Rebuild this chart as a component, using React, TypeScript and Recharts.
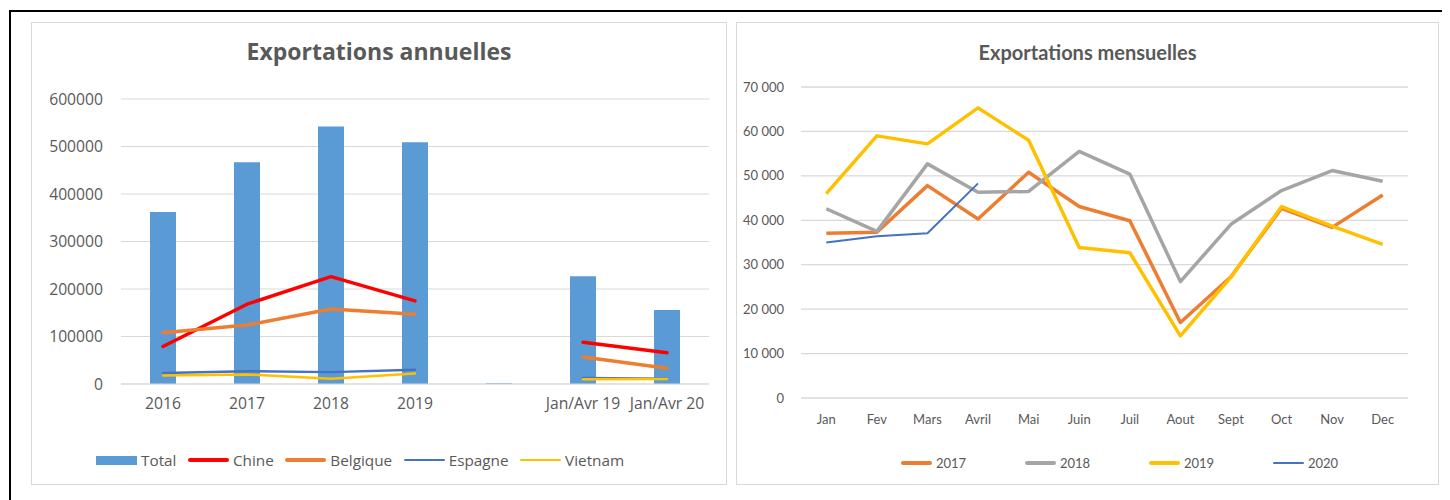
import { ComposedChart, Bar, Line, XAxis, YAxis, CartesianGrid } from 'recharts';

// ---- Exportations annuelles ----
const years = ['2016', '2017', '2018', '2019', '', 'Jan/Avr 19', 'Jan/Avr 20'];
const total = [362000, 467000, 542000, 509000, 1500, 227000, 156000];
const chine = [79000, 168000, 226000, 175000, null, 88000, 66000];
const belgique = [108000, 124000, 158000, 147000, null, 57000, 33000];
const espagne = [23000, 27000, 25000, 30000, null, 12500, 11000];
const vietnam = [18000, 20000, 11000, 22000, null, 10000, 10500];
const annualTicks = [0, 100000, 200000, 300000, 400000, 500000, 600000];

// ---- Exportations mensuelles ----
const months = ['Jan', 'Fev', 'Mars', 'Avril', 'Mai', 'Juin', 'Juil', 'Aout', 'Sept', 'Oct', 'Nov', 'Dec'];
const y2017 = [37100, 37300, 47800, 40300, 50800, 43100, 39900, 17000, 27300, 42700, 38400, 45700];
const y2018 = [42600, 37500, 52700, 46300, 46500, 55500, 50400, 26200, 39100, 46700, 51200, 48800];
const y2019 = [46000, 59000, 57200, 65300, 58000, 33900, 32700, 14000, 27200, 43100, 38700, 34600];
const y2020 = [35000, 36400, 37100, 48300, null, null, null, null, null, null, null, null];
const monthlyTicks = [0, 10000, 20000, 30000, 40000, 50000, 60000, 70000];

const annualData = years.map((label, i) => ({
  label,
  total: total[i],
  chine: chine[i],
  belgique: belgique[i],
  espagne: espagne[i],
  vietnam: vietnam[i],
}));

const monthlyData = months.map((month, i) => ({
  month,
  y2017: y2017[i],
  y2018: y2018[i],
  y2019: y2019[i],
  y2020: y2020[i],
}));

const GRAY = '#595959';
const GRID = '#D9D9D9';
const LEFT_FONT = '"Open Sans", sans-serif';
const RIGHT_FONT = 'Lato, sans-serif';

const fmtSpace = (v: number) => String(v).replace(/\B(?=(\d{3})+(?!\d))/g, ' ');

const annualLegend = [
  { name: 'Total', color: '#5B9BD5', bar: true, w: 3 },
  { name: 'Chine', color: '#FF0000', bar: false, w: 3.5 },
  { name: 'Belgique', color: '#ED7D31', bar: false, w: 3.5 },
  { name: 'Espagne', color: '#4472C4', bar: false, w: 2.5 },
  { name: 'Vietnam', color: '#FFC000', bar: false, w: 2.5 },
];

const monthlyLegend = [
  { name: '2017', color: '#ED7D31', w: 4 },
  { name: '2018', color: '#A5A5A5', w: 4 },
  { name: '2019', color: '#FFC000', w: 4 },
  { name: '2020', color: '#4472C4', w: 2.5 },
];

const panel = (left: number, width: number): React.CSSProperties => ({
  position: 'absolute',
  left,
  top: 14,
  width,
  height: 463,
  boxSizing: 'border-box',
  border: `1px solid ${GRID}`,
  background: '#fff',
});

export default function App() {
  return (
    <div style={{ position: 'relative', width: 1442, height: 492, overflow: 'hidden' }}>
      <div
        style={{
          position: 'absolute',
          left: 1,
          top: 2,
          width: 1500,
          height: 600,
          border: '2px solid #000',
        }}
      />

      {/* left panel */}
      <div style={panel(23, 696)}>
        <div
          style={{
            position: 'absolute',
            top: 12,
            left: 0,
            width: '100%',
            textAlign: 'center',
            fontFamily: LEFT_FONT,
            fontWeight: 700,
            fontSize: 23,
            color: GRAY,
          }}
        >
          Exportations annuelles
        </div>
        <ComposedChart
          width={694}
          height={461}
          data={annualData}
          margin={{ top: 76, right: 17, bottom: 70, left: 0 }}
          style={{ position: 'absolute', left: 0, top: 0 }}
        >
          <CartesianGrid vertical={false} stroke={GRID} strokeWidth={1} />
          <XAxis
            dataKey="label"
            tickLine={false}
            axisLine={{ stroke: GRID }}
            tickSize={0}
            tickMargin={14}
            height={30}
            interval={0}
            tick={{ fill: GRAY, fontSize: 15.7, fontFamily: LEFT_FONT }}
          />
          <YAxis
            domain={[0, 600000]}
            ticks={annualTicks}
            width={89}
            tickLine={false}
            axisLine={false}
            tickSize={0}
            tickMargin={18}
            tick={{ fill: GRAY, fontSize: 15.7, fontFamily: LEFT_FONT }}
          />
          <Bar dataKey="total" fill="#5B9BD5" barSize={26} isAnimationActive={false} />
          <Line dataKey="chine" stroke="#FF0000" strokeWidth={3.5} dot={false} activeDot={false} strokeLinecap="round" strokeLinejoin="round" isAnimationActive={false} />
          <Line dataKey="belgique" stroke="#ED7D31" strokeWidth={3.5} dot={false} activeDot={false} strokeLinecap="round" strokeLinejoin="round" isAnimationActive={false} />
          <Line dataKey="espagne" stroke="#4472C4" strokeWidth={2.5} dot={false} activeDot={false} strokeLinecap="round" strokeLinejoin="round" isAnimationActive={false} />
          <Line dataKey="vietnam" stroke="#FFC000" strokeWidth={2.5} dot={false} activeDot={false} strokeLinecap="round" strokeLinejoin="round" isAnimationActive={false} />
        </ComposedChart>
        <div
          style={{
            position: 'absolute',
            left: 64,
            top: 427,
            display: 'flex',
            alignItems: 'center',
            fontFamily: LEFT_FONT,
            fontSize: 15.3,
            color: GRAY,
            lineHeight: '20px',
          }}
        >
          {annualLegend.map((it) => (
            <div key={it.name} style={{ display: 'flex', alignItems: 'center', marginRight: 11.5 }}>
              <span
                style={{
                  display: 'inline-block',
                  width: 41,
                  height: it.bar ? 9 : it.w,
                  background: it.color,
                  borderRadius: it.bar ? 0 : 2,
                  marginRight: 4,
                }}
              />
              <span>{it.name}</span>
            </div>
          ))}
        </div>
      </div>

      {/* right panel */}
      <div style={panel(728, 703)}>
        <div
          style={{
            position: 'absolute',
            top: 17,
            left: 0,
            width: '100%',
            textAlign: 'center',
            fontFamily: RIGHT_FONT,
            fontWeight: 700,
            fontSize: 20,
            color: GRAY,
          }}
        >
          Exportations mensuelles
        </div>
        <ComposedChart
          width={701}
          height={461}
          data={monthlyData}
          margin={{ top: 64, right: 30, bottom: 56, left: 0 }}
          style={{ position: 'absolute', left: 0, top: 0 }}
        >
          <CartesianGrid vertical={false} stroke={GRID} strokeWidth={1.3} />
          <XAxis
            dataKey="month"
            scale="band"
            tickLine={false}
            axisLine={false}
            tickSize={0}
            tickMargin={17}
            height={30}
            interval={0}
            tick={{ fill: GRAY, fontSize: 13, fontFamily: RIGHT_FONT }}
          />
          <YAxis
            domain={[0, 70000]}
            ticks={monthlyTicks}
            width={64}
            tickLine={false}
            axisLine={false}
            tickSize={0}
            tickMargin={17}
            tickFormatter={fmtSpace}
            tick={{ fill: GRAY, fontSize: 13, fontFamily: RIGHT_FONT }}
          />
          <Line dataKey="y2017" stroke="#ED7D31" strokeWidth={3.5} dot={false} activeDot={false} strokeLinejoin="round" isAnimationActive={false} />
          <Line dataKey="y2018" stroke="#A5A5A5" strokeWidth={3.5} dot={false} activeDot={false} strokeLinejoin="round" isAnimationActive={false} />
          <Line dataKey="y2019" stroke="#FFC000" strokeWidth={3.5} dot={false} activeDot={false} strokeLinejoin="round" isAnimationActive={false} />
          <Line dataKey="y2020" stroke="#4472C4" strokeWidth={2} dot={false} activeDot={false} strokeLinejoin="round" isAnimationActive={false} />
        </ComposedChart>
        <div
          style={{
            position: 'absolute',
            left: 164,
            top: 431,
            display: 'flex',
            alignItems: 'center',
            fontFamily: RIGHT_FONT,
            fontSize: 13,
            color: GRAY,
            lineHeight: '18px',
          }}
        >
          {monthlyLegend.map((it) => (
            <div key={it.name} style={{ display: 'flex', alignItems: 'center', width: 124 }}>
              <span
                style={{
                  display: 'inline-block',
                  width: 31,
                  height: it.w,
                  background: it.color,
                  borderRadius: 2,
                  marginRight: 4,
                }}
              />
              <span>{it.name}</span>
            </div>
          ))}
        </div>
      </div>
    </div>
  );
}
